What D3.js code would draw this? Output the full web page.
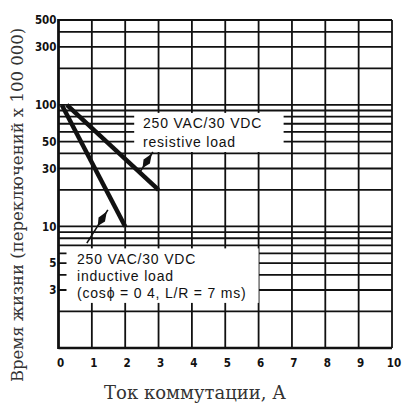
<!DOCTYPE html>
<html>
<head>
<meta charset="utf-8">
<script src="https://cdn.jsdelivr.net/npm/d3@7"></script>
<style>
  html, body { margin: 0; padding: 0; background: #fff; }
  svg { display: block; }
</style>
</head>
<body>
<svg id="chart" width="402" height="403"></svg>
<script>
// Switching current (A) on the x axis, 0..10
const xTicks = [0, 1, 2, 3, 4, 5, 6, 7, 8, 9, 10];
// Labelled life values on the log y axis
const yTickLabels = [500, 300, 100, 50, 30, 10, 5, 3];
// Horizontal grid lines (log decades)
const yGrid = [1, 2, 3, 4, 5, 6, 7, 8, 9, 10, 20, 30, 40, 50, 60, 70, 80, 90, 100, 200, 300, 400, 500];

// Life curves: [current A, life x 100 000]
const resistiveCurve = [[0.25, 100], [3, 20]];
const inductiveCurve = [[0.1, 100], [2, 10]];

// Legend texts
const resistiveText = ["250 VAC/30 VDC", "resistive load"];
const inductiveText = ["250 VAC/30 VDC", "inductive load", "(cosϕ = 0 4, L/R = 7 ms)"];

const xTitle = "Ток коммутации, А";
const yTitle = "Время жизни (переключений x 100 000)";

const svg = d3.select("#chart");

const x = d3.scaleLinear().domain([0, 10]).range([58.5, 392]);
const y = d3.scaleLog().domain([1, 500]).range([348, 20]);

const ink = "#111";

// grid
const grid = svg.append("g").attr("stroke", ink).attr("stroke-width", 1.8);
grid.selectAll("line.v").data(xTicks.slice(1)).join("line")
  .attr("x1", d => x(d)).attr("x2", d => x(d))
  .attr("y1", y(1)).attr("y2", y(500));
grid.selectAll("line.h").data(yGrid).join("line")
  .attr("x1", x(0)).attr("x2", x(10))
  .attr("y1", d => y(d)).attr("y2", d => y(d));

// axes frame lines
svg.append("line").attr("x1", x(0)).attr("x2", x(0)).attr("y1", y(1) + 1).attr("y2", y(500) - 1)
  .attr("stroke", ink).attr("stroke-width", 2.8);
svg.append("line").attr("x1", x(0)).attr("x2", x(10)).attr("y1", y(1)).attr("y2", y(1))
  .attr("stroke", ink).attr("stroke-width", 2.4);

// y tick labels
svg.append("g").selectAll("text").data(yTickLabels).join("text")
  .attr("x", x(0) - 2).attr("y", d => y(d)).attr("dy", "0.36em")
  .attr("text-anchor", "end")
  .attr("font-family", "'DejaVu Sans Condensed', 'DejaVu Sans', sans-serif")
  .attr("font-weight", "bold").attr("font-size", 11.5).attr("fill", ink)
  .text(d => d);

// x tick labels
svg.append("g").selectAll("text").data(xTicks).join("text")
  .attr("x", d => x(d) + 2).attr("y", 367)
  .attr("text-anchor", "middle")
  .attr("font-family", "'DejaVu Sans Condensed', 'DejaVu Sans', sans-serif")
  .attr("font-weight", "bold").attr("font-size", 11.5).attr("fill", ink)
  .text(d => d);

// legend boxes (white panels over the grid)
function legend(x0, x1, vTop, vBottom, lines, tx, ty0, step) {
  svg.append("rect")
    .attr("x", x(x0)).attr("y", y(vTop))
    .attr("width", x(x1) - x(x0)).attr("height", y(vBottom) - y(vTop))
    .attr("fill", "#fff");
  svg.append("g").selectAll("text").data(lines).join("text")
    .attr("x", tx).attr("y", (d, i) => ty0 + i * step)
    .attr("font-family", "'Liberation Sans', Arial, sans-serif")
    .attr("font-size", 14).attr("letter-spacing", 0.8).attr("fill", ink)
    .text(d => d);
}
legend(2.27, 6.75, 86, 41, resistiveText, 143, 128, 19);
legend(0.24, 6.0, 6.6, 2.35, inductiveText, 77, 264, 17);

// life curves
const line = d3.line().x(d => x(d[0])).y(d => y(d[1]));
svg.append("path").datum(resistiveCurve).attr("d", line)
  .attr("fill", "none").attr("stroke", ink).attr("stroke-width", 4.5).attr("stroke-linecap", "butt");
svg.append("path").datum(inductiveCurve).attr("d", line)
  .attr("fill", "none").attr("stroke", ink).attr("stroke-width", 4.5).attr("stroke-linecap", "butt");

// pointer arrows from labels to curves
const arrows = [
  { from: [2.44, 28], to: [2.83, 41] },
  { from: [0.85, 7.3], to: [1.48, 13.7] }
];
arrows.forEach(a => {
  const x0 = x(a.from[0]), y0 = y(a.from[1]);
  const x1 = x(a.to[0]), y1 = y(a.to[1]);
  svg.append("line").attr("x1", x0).attr("y1", y0).attr("x2", x1).attr("y2", y1)
    .attr("stroke", ink).attr("stroke-width", 1.6);
  const ang = Math.atan2(y1 - y0, x1 - x0);
  const len = 17, w = 3.8;
  const ux = Math.cos(ang), uy = Math.sin(ang);
  const px = -uy, py = ux;
  const tipX = x1 - ux * 2, tipY = y1 - uy * 2;
  const midX = tipX - ux * len * 0.55, midY = tipY - uy * len * 0.55;
  const tailX = tipX - ux * len, tailY = tipY - uy * len;
  svg.append("path")
    .attr("d", `M${tipX},${tipY} L${midX + px * w},${midY + py * w} L${tailX},${tailY} L${midX - px * w},${midY - py * w} Z`)
    .attr("fill", ink);
});

// axis titles
svg.append("text")
  .attr("x", 195).attr("y", 399).attr("text-anchor", "middle")
  .attr("font-family", "'DejaVu Serif', 'Liberation Serif', serif")
  .attr("font-size", 18).attr("fill", "#333")
  .text(xTitle);
svg.append("text")
  .attr("transform", "translate(23,205) rotate(-90)")
  .attr("text-anchor", "middle")
  .attr("font-family", "'DejaVu Serif', 'Liberation Serif', serif")
  .attr("font-size", 16.5).attr("fill", "#333")
  .text(yTitle);
</script>
</body>
</html>
